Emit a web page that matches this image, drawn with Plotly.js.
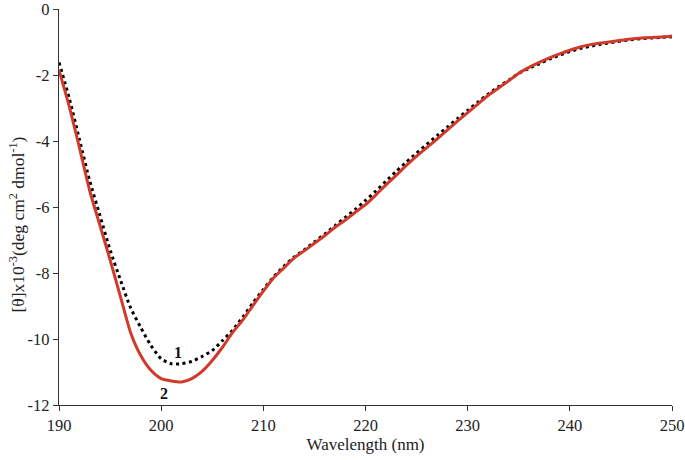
<!DOCTYPE html>
<html>
<head>
<meta charset="utf-8">
<script src="https://cdn.plot.ly/plotly-3.0.1.min.js"></script>
<style>html,body{margin:0;padding:0;background:#fff;}#chart{width:685px;height:460px;}</style>
</head>
<body>
<div id="chart"></div>
<script>
// Wavelength grid (nm)
const wavelength = [190,191,192,193,194,195,196,197,198,199,200,201,202,203,204,205,206,207,208,209,210,
  211,212,213,214,215,216,217,218,219,220,221,222,223,224,225,226,227,228,229,230,
  231,232,233,234,235,236,237,238,239,240,241,242,243,244,245,246,247,248,249,250];

// Curve 1 (dotted black)
const curve1 = [-1.62,-2.7,-3.95,-5.2,-6.25,-7.3,-8.2,-9.05,-9.65,-10.2,-10.6,-10.75,-10.75,-10.68,-10.53,-10.35,-10.05,-9.73,-9.33,-8.9,-8.5,
  -8.12,-7.8,-7.52,-7.3,-7.06,-6.82,-6.57,-6.32,-6.07,-5.8,-5.52,-5.22,-4.92,-4.64,-4.36,-4.1,-3.84,-3.58,-3.32,-3.07,
  -2.82,-2.58,-2.36,-2.16,-1.95,-1.8,-1.66,-1.52,-1.4,-1.29,-1.2,-1.13,-1.07,-1.02,-0.97,-0.93,-0.9,-0.88,-0.86,-0.84];

// Curve 2 (solid red)
const curve2 = [-1.85,-2.95,-4.2,-5.5,-6.55,-7.6,-8.7,-9.8,-10.5,-10.95,-11.2,-11.27,-11.3,-11.2,-10.98,-10.65,-10.25,-9.8,-9.42,-8.98,-8.55,
  -8.15,-7.85,-7.55,-7.33,-7.1,-6.87,-6.62,-6.4,-6.16,-5.93,-5.64,-5.33,-5.04,-4.74,-4.46,-4.2,-3.94,-3.67,-3.4,-3.14,
  -2.88,-2.62,-2.4,-2.18,-1.95,-1.77,-1.62,-1.48,-1.36,-1.25,-1.15,-1.08,-1.03,-0.99,-0.95,-0.91,-0.88,-0.86,-0.85,-0.82];

const xTicks = [190,200,210,220,230,240,250];
const yTicks = [0,-2,-4,-6,-8,-10,-12];
const yTickLabels = ["0","-2","-4","-6","-8","-10","-12"];

const curveLabels = ["1","2"];
const labelX = [201.65, 200.27];
const labelY = [-10.4, -11.65];

const yTitle = "[θ]x10<sup>-3</sup>(deg cm<sup>2</sup> dmol<sup>-1</sup>)";
const serif = "Liberation Serif, Times New Roman, serif";

const traces = [
  {x: wavelength, y: curve1, mode: "lines", name: "1",
   line: {color: "#000000", width: 3, dash: "3px,3.5px", shape: "spline", smoothing: 0.6}},
  {x: wavelength, y: curve2, mode: "lines", name: "2",
   line: {color: "#cf3a2b", width: 3, shape: "spline", smoothing: 0.6}}
];

const annotations = curveLabels.map((t, i) => ({
  x: labelX[i], y: labelY[i], xref: "x", yref: "y", text: "<b>" + t + "</b>", showarrow: false,
  font: {family: serif, size: 16, color: "#111"}
}));
annotations.push({
  x: -0.069, y: 0.455, xref: "paper", yref: "paper", text: yTitle, showarrow: false,
  textangle: -90, xanchor: "center", yanchor: "middle",
  font: {family: serif, size: 17.5, color: "#222"}
});

const layout = {
  width: 685, height: 460,
  margin: {l: 59, r: 13, t: 9, b: 55},
  paper_bgcolor: "#ffffff", plot_bgcolor: "#ffffff",
  showlegend: false,
  font: {family: serif, color: "#222", size: 16},
  xaxis: {
    range: [190, 250], tickvals: xTicks, ticks: "outside", ticklen: 5, tickcolor: "#333",
    showline: true, linecolor: "#333", linewidth: 1.3, showgrid: false, zeroline: false,
    tickfont: {family: serif, size: 16.5, color: "#222"}, ticklabeloverflow: "allow",
    title: {text: "Wavelength (nm)", font: {family: serif, size: 17, color: "#222"}, standoff: 4}
  },
  yaxis: {
    range: [-12, 0], tickvals: yTicks, ticktext: yTickLabels, ticks: "outside", ticklen: 5, tickcolor: "#333",
    showline: true, linecolor: "#333", linewidth: 1.3, showgrid: false, zeroline: false,
    tickfont: {family: serif, size: 16.5, color: "#222"}, ticklabeloverflow: "allow"
  },
  annotations: annotations
};

Plotly.newPlot("chart", traces, layout, {displayModeBar: false, staticPlot: true});
</script>
</body>
</html>
